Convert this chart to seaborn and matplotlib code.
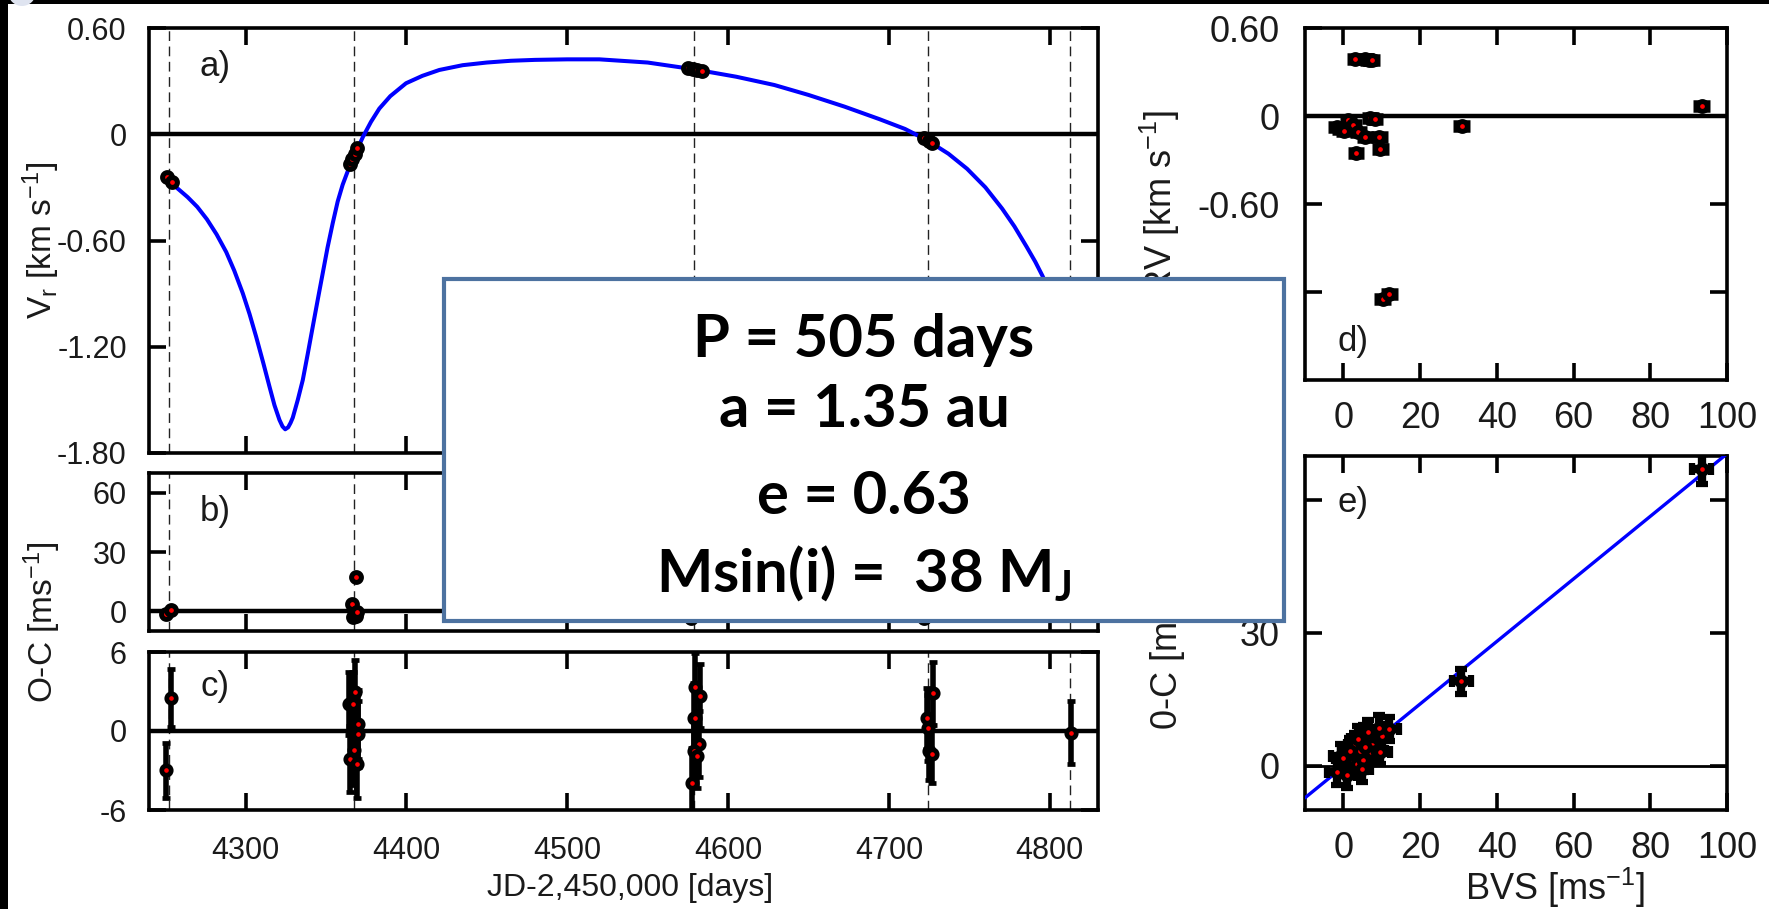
import numpy as np
import pandas as pd
import matplotlib
matplotlib.use("Agg")
import matplotlib.pyplot as plt
import seaborn as sns
from matplotlib.patches import Rectangle, Ellipse

# ---------------- data ----------------
epochs = [4252.4, 4367.5, 4579.0, 4724.3, 4812.6]

model_days = [4253.8, 4258.0, 4264.0, 4270.0, 4276.0, 4282.0, 4288.0, 4293.0, 4298.3,
              4302.5, 4306.6, 4311.0, 4314.9, 4318.0, 4321.1, 4323.0, 4324.7, 4326.5,
              4328.0, 4329.4, 4332.5, 4335.6, 4338.7, 4341.8, 4345.0, 4348.0, 4351.0,
              4354.2, 4357.3, 4360.4, 4363.5, 4366.6, 4370.0, 4373.0, 4378.0, 4383.2,
              4390.0, 4399.8, 4410.0, 4420.5, 4435.0, 4450.0, 4465.0, 4480.0, 4500.0,
              4520.0, 4550.0, 4578.7, 4605.0, 4628.8, 4650.0, 4672.4, 4694.2, 4710.0,
              4724.0, 4737.0, 4748.6, 4760.0, 4770.4, 4778.0, 4785.6, 4791.0, 4795.5,
              4800.0, 4805.0, 4810.0, 4815.0, 4819.0, 4822.0, 4825.0, 4829.0]
model_rv = [-0.277, -0.308, -0.355, -0.410, -0.480, -0.565, -0.665, -0.770, -0.898,
            -1.015, -1.143, -1.290, -1.425, -1.530, -1.613, -1.650, -1.666, -1.655,
            -1.630, -1.600, -1.500, -1.388, -1.240, -1.087, -0.930, -0.785, -0.640,
            -0.503, -0.380, -0.285, -0.210, -0.145, -0.075, -0.015, 0.070, 0.145,
            0.215, 0.288, 0.330, 0.363, 0.390, 0.405, 0.415, 0.420, 0.423,
            0.423, 0.405, 0.367, 0.325, 0.278, 0.222, 0.156, 0.085, 0.030,
            -0.035, -0.110, -0.195, -0.300, -0.420, -0.520, -0.635, -0.720, -0.800,
            -0.890, -1.000, -1.130, -1.280, -1.420, -1.520, -1.610, -1.660]

a_days = [4251.0, 4254.0, 4365.0, 4366.5, 4368.0, 4369.5, 4575.0, 4578.0, 4581.0, 4584.0,
          4722.0, 4725.0, 4727.0, 4812.5]
a_rv = [-0.24, -0.27, -0.17, -0.14, -0.11, -0.08, 0.375, 0.370, 0.365, 0.360,
        -0.02, -0.04, -0.05, -1.25]

b_days = [4250.8, 4253.9, 4366.0, 4367.0, 4368.5, 4369.5, 4368.6, 4577.0, 4580.0, 4582.0,
          4722.0, 4725.0, 4727.0, 4812.6]
b_oc = [-1.3, 0.7, 3.8, -3.1, -2.2, -0.5, 17.4, -3.5, -1.0, 2.0, -3.5, 0.0, 2.0, 0.0]

c_days = [4253.8, 4250.7, 4368.3, 4364.6, 4367.1, 4369.8, 4369.8, 4367.3, 4365.0, 4369.1,
          4579.7, 4582.4, 4578.6, 4579.7, 4581.7, 4578.6, 4580.7, 4577.6,
          4727.3, 4723.6, 4724.6, 4725.2, 4726.7, 4813.0]
c_oc = [2.53, -2.99, 2.99, 2.07, 2.07, 0.51, -0.25, -1.47, -2.15, -2.48,
        3.34, 2.66, 1.01, 0.96, -1.01, -1.52, -1.90, -3.92,
        2.86, 0.96, 0.20, -1.52, -1.72, -0.13]
c_err = [2.2, 2.1, 2.4, 2.4, 2.4, 2.6, 2.5, 2.6, 2.5, 2.6,
         2.6, 2.4, 2.6, 2.5, 2.5, 2.6, 2.4, 2.6,
         2.4, 2.3, 2.5, 2.2, 2.2, 2.4]

d_bvs = [3.1, 5.7, 6.6, 7.4, -1.7, -0.7, 0.2, 1.3, 2.6, 3.9, 5.7, 7.0, 8.2, 9.4, 3.3,
         9.6, 30.9, 10.3, 12.0, 93.4]
d_rv = [0.387, 0.387, 0.385, 0.385, -0.073, -0.086, -0.100, -0.027, -0.061, -0.107,
        -0.145, -0.012, -0.020, -0.141, -0.255, -0.227, -0.068, -1.250, -1.215, 0.068]
d_bvs_err = [2.2] * 20

e_bvs = [-0.7, 0.0, -1.7, 0.9, 2.6, 3.5, 3.1, 5.4, 7.0, 7.4, 6.1, 7.1, 5.2, 8.7, 9.6,
         10.0, 12.0, 9.4, 4.4, 1.7, 3.9, 6.5, 5.7, 4.8, 30.7, 93.4]
e_oc = [2.1, 1.7, -1.5, -2.2, 0.9, 0.5, 4.6, 6.3, 5.7, 4.6, 2.3, 3.1, 1.4, 3.4, 3.2,
        6.7, 8.3, 8.6, 3.4, 3.4, 6.1, 7.6, 4.2, -0.8, 19.1, 67.0]
e_bvs_err = [2.5] * 26
e_oc_err = [2.8] * 25 + [3.4]

day_ticks = [4300, 4400, 4500, 4600, 4700, 4800]
a_yticks = [0.6, 0.0, -0.6, -1.2, -1.8]
a_yticklabels = ["0.60", "0", "-0.60", "-1.20", "-1.80"]
b_yticks = [0, 30, 60]
c_yticks = [-6, 0, 6]
d_yticks = [0.6, 0.0, -0.6, -1.2]
d_yticklabels = ["0.60", "0", "-0.60", "-1.20"]
bvs_ticks = [0, 20, 40, 60, 80, 100]
e_yticks = [0, 30, 60]

box_lines = ["P = 505 days", "a = 1.35 au", "e = 0.63", r"Msin(i) =  38 M$_\mathregular{J}$"]

# ---------------- style ----------------
sns.set_theme(style="ticks")
plt.rcParams["font.family"] = ["Liberation Sans", "DejaVu Sans"]
plt.rcParams["axes.unicode_minus"] = False
plt.rcParams["mathtext.default"] = "regular"

W, H = 1769, 909
fig = plt.figure(figsize=(W / 100, H / 100), dpi=100)
fig.patch.set_facecolor("white")


def fx(px):
    return px / W


def fy(py):
    return 1 - py / H


def add_ax(l, t, r, b):
    return fig.add_axes([fx(l), fy(b), (r - l) / W, (b - t) / H])


ax_a = add_ax(149, 28, 1098, 453)
ax_b = add_ax(149, 473, 1098, 631)
ax_c = add_ax(149, 652, 1098, 810)
ax_d = add_ax(1305, 28, 1727, 380)
ax_e = add_ax(1305, 456, 1727, 810)

FS_L = 22
FS_R = 26
TXT = "#1a1a1a"


def style(ax, xpad, ypad, fs):
    ax.set_facecolor("white")
    for s in ax.spines.values():
        s.set_linewidth(2.6)
        s.set_color("black")
        s.set_visible(True)
    ax.tick_params(direction="in", length=12, width=2.6, top=True, right=True,
                   labelsize=fs, colors="black", labelcolor=TXT)
    ax.tick_params(axis="x", pad=xpad)
    ax.tick_params(axis="y", pad=ypad)
    ax.grid(False)


def points(ax, x, y, s=42, lw=3.4):
    sns.scatterplot(x=x, y=y, ax=ax, color="red", edgecolor="black", linewidth=lw,
                    s=s, zorder=6, legend=False)


def epoch_lines(ax):
    for ep in epochs:
        ax.axvline(ep, color="#222222", lw=1.0, ls=(0, (7, 4)), zorder=1)


# ---- panel a ----
epoch_lines(ax_a)
ax_a.axhline(0, color="black", lw=3.2, zorder=2)
sns.lineplot(x=model_days, y=model_rv, ax=ax_a, color="#0000ff", lw=2.9,
             estimator=None, sort=False, zorder=3)
points(ax_a, a_days, a_rv, s=50, lw=3.6)

# ---- panel b ----
epoch_lines(ax_b)
ax_b.axhline(0, color="black", lw=3.2, zorder=2)
points(ax_b, b_days, b_oc, s=50, lw=3.6)

# ---- panel c ----
epoch_lines(ax_c)
ax_c.axhline(0, color="black", lw=3.2, zorder=2)
ax_c.errorbar(c_days, c_oc, yerr=c_err, fmt="none", ecolor="black", elinewidth=4,
              capsize=3.2, capthick=3.4, zorder=4)
points(ax_c, c_days, c_oc, s=46, lw=3.4)

for ax in (ax_a, ax_b, ax_c):
    ax.set_xlim(4240, 4830)
    ax.set_xticks(day_ticks)
    ax.set_xlabel("")
    ax.set_ylabel("")
    style(ax, 19, 16, FS_L)
ax_a.set_xticklabels([])
ax_b.set_xticklabels([])
ax_a.set_ylim(-1.8, 0.6)
ax_a.set_yticks(a_yticks)
ax_a.set_yticklabels(a_yticklabels)
ax_b.set_ylim(-10, 70)
ax_b.set_yticks(b_yticks)
ax_b.set_yticklabels([str(v) for v in b_yticks])
ax_c.set_ylim(-6, 6)
ax_c.set_yticks(c_yticks)
ax_c.set_yticklabels([str(v) for v in c_yticks])
ax_c.set_xticklabels([str(v) for v in day_ticks])

# ---- panel d ----
ax_d.axhline(0, color="black", lw=3.2, zorder=2)
ax_d.errorbar(d_bvs, d_rv, xerr=d_bvs_err, fmt="none", ecolor="black", elinewidth=9,
              capsize=0, zorder=4)
points(ax_d, d_bvs, d_rv, s=50, lw=3.6)
ax_d.set_xlim(-10, 100)
ax_d.set_ylim(-1.8, 0.6)
ax_d.set_yticks(d_yticks)
ax_d.set_yticklabels(d_yticklabels)

# ---- panel e ----
ax_e.set_xlim(-10, 100)
ax_e.set_ylim(-10, 70)
ax_e.axhline(0, color="black", lw=2.0, zorder=2)
sns.regplot(x=e_bvs, y=e_oc, ax=ax_e, scatter=False, ci=None, truncate=False,
            line_kws=dict(color="#0000ff", lw=2.4, zorder=3))
ax_e.errorbar(e_bvs, e_oc, xerr=e_bvs_err, yerr=e_oc_err, fmt="none", ecolor="black",
              elinewidth=6, capsize=4, capthick=4.5, zorder=4)
points(ax_e, e_bvs, e_oc, s=46, lw=3.4)
ax_e.set_xlim(-10, 100)
ax_e.set_ylim(-10, 70)
ax_e.set_yticks(e_yticks)
ax_e.set_yticklabels([str(v) for v in e_yticks])

for ax in (ax_d, ax_e):
    ax.set_xticks(bvs_ticks)
    ax.set_xticklabels([str(v) for v in bvs_ticks])
    ax.set_xlabel("")
    ax.set_ylabel("")
    style(ax, 15, 18, FS_R)

# panel tags
for ax, tag, x, y in [(ax_a, "a)", 0.053, 0.91), (ax_b, "b)", 0.053, 0.754),
                      (ax_c, "c)", 0.054, 0.783), (ax_d, "d)", 0.076, 0.11),
                      (ax_e, "e)", 0.076, 0.87)]:
    ax.text(x, y, tag, transform=ax.transAxes, fontsize=25, ha="left", va="center",
            color=TXT, zorder=7)

# axis titles
labL = dict(fontsize=24, ha="center", va="center", color=TXT)
labR = dict(fontsize=FS_R, ha="center", va="center", color=TXT)
fig.text(fx(41), fy(240), r"V$_r$ [km s$^{-1}$]", rotation=90, **labL)
fig.text(fx(42), fy(622), r"O-C [ms$^{-1}$]", rotation=90, **labL)
fig.text(fx(630), fy(888), "JD-2,450,000 [days]", fontsize=23, ha="center",
         va="center", color=TXT)
fig.text(fx(1160), fy(203), r"RV [km s$^{-1}$]", rotation=90, **labR)
fig.text(fx(1166), fy(647), r"0-C [ms$^{-1}$]", rotation=90, **labR)
fig.text(fx(1555), fy(888), r"BVS [ms$^{-1}$]", **labR)

# parameter box on top
box = Rectangle((fx(444), fy(621)), fx(1284) - fx(444), fy(279) - fy(621),
                transform=fig.transFigure, facecolor="white", edgecolor="#4d72a0",
                linewidth=3, zorder=20)
fig.add_artist(box)
for txt, yb in zip(box_lines, [357, 427, 514, 592]):
    fig.text(fx(864), fy(yb), txt, ha="center", va="baseline", fontsize=43,
             fontweight="bold", family=["Lato", "DejaVu Sans"], color="black", zorder=21)

# dark frame edges of the original screenshot
fig.add_artist(Rectangle((0, fy(4)), 1, 4 / H, transform=fig.transFigure,
                         facecolor="black", edgecolor="none", zorder=30))
fig.add_artist(Rectangle((0, 0), 8 / W, 1, transform=fig.transFigure,
                         facecolor="black", edgecolor="none", zorder=30))
fig.add_artist(Ellipse((fx(22), fy(-8)), 28 / W, 28 / H, transform=fig.transFigure,
                       facecolor="#dfe4f0", edgecolor="none", zorder=31))

fig.savefig("out.png", dpi=100)
